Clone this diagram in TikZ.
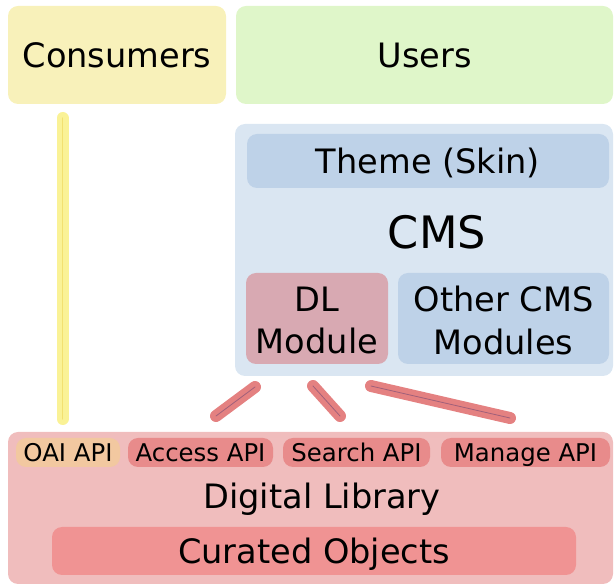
\documentclass[tikz,border=0pt]{standalone}
\usepackage{fontspec}
\setmainfont{DejaVu Sans}
\usetikzlibrary{calc}
\definecolor{consfill}{HTML}{F8F1BA}
\definecolor{userfill}{HTML}{DFF6C9}
\definecolor{cmsfill}{HTML}{DAE6F2}
\definecolor{subfill}{HTML}{BED2E8}
\definecolor{dlmodfill}{HTML}{D8A9B2}
\definecolor{dlfill}{HTML}{F0BDBD}
\definecolor{apifill}{HTML}{E88B8B}
\definecolor{oaifill}{HTML}{F2C8A0}
\definecolor{curfill}{HTML}{F09393}
\definecolor{yelout}{HTML}{FAF296}
\definecolor{yelin}{HTML}{F2E070}
\definecolor{conout}{HTML}{E48181}
\definecolor{conin}{HTML}{A0607A}
\tikzset{
  box/.style={rectangle, rounded corners=7.5pt, inner sep=0pt, align=center, text=black, text depth=0pt},
  bigtxt/.style={font=\fontsize{25.2}{32}\selectfont},
  apitxt/.style={font=\fontsize{18.3}{22}\selectfont},
  conn/.style={line width=9pt, line cap=round, draw=conout},
  conninner/.style={line width=0.6pt, line cap=round, draw=conin},
  yconn/.style={line width=9pt, line cap=round, draw=yelout},
  yconninner/.style={line width=0.8pt, line cap=round, draw=yelin},
}
\begin{document}
\begin{tikzpicture}[x=0.75pt,y=-0.75pt]
\useasboundingbox (0,0) rectangle (615,584);
% top row
\node[box, bigtxt, fill=consfill, minimum width=163.5pt, minimum height=73.5pt] (cons) at (117,55) {Consumers};
\node[box, bigtxt, fill=userfill, minimum width=282.75pt, minimum height=73.5pt] (users) at (424.5,55) {Users};
% CMS
\node[box, fill=cmsfill, minimum width=283.5pt, minimum height=189pt] (cms) at (424,250) {};
\node[box, bigtxt, fill=subfill, minimum width=271.5pt, minimum height=40.5pt] (theme) at (428,161) {Theme (Skin)};
\node[font=\fontsize{33.5}{40}\selectfont, inner sep=0pt] (cmslabel) at (437,232) {CMS};
\node[box, bigtxt, fill=dlmodfill, minimum width=106.5pt, minimum height=68.25pt] (dlmod) at (317,318.5) {};
\node[bigtxt, align=center, inner sep=0pt] (dlmodtext) at (317,320.5) {DL\\Module};
\node[box, bigtxt, fill=subfill, minimum width=158.25pt, minimum height=68.25pt] (other) at (503.5,318.5) {};
\node[bigtxt, align=center, inner sep=0pt] (othertext) at (503.5,320.5) {Other CMS\\Modules};
% Digital library
\node[box, fill=dlfill, minimum width=453.75pt, minimum height=114pt] (dl) at (310.5,508) {};
\node[box, apitxt, fill=oaifill, minimum width=78pt, minimum height=21.75pt] (oai) at (68,452.5) {OAI API};
\node[box, apitxt, fill=apifill, minimum width=108.75pt, minimum height=21.75pt] (access) at (200.5,452.5) {Access API};
\node[box, apitxt, fill=apifill, minimum width=110.25pt, minimum height=21.75pt] (search) at (356.5,452.5) {Search API};
\node[box, apitxt, fill=apifill, minimum width=126.75pt, minimum height=21.75pt] (manage) at (525.5,452.5) {Manage API};
\node[bigtxt, inner sep=0pt, text depth=0pt] (dllabel) at (322,496) {Digital Library};
\node[box, bigtxt, fill=curfill, minimum width=393pt, minimum height=36pt] (cur) at (314,551) {Curated Objects};
% connector end points
\coordinate (y1) at (62.5,118);
\coordinate (y2) at (62.5,419);
\coordinate (a1) at (255,387);
\coordinate (a2) at (216,416);
\coordinate (b1) at (313,386);
\coordinate (b2) at (340,416);
\coordinate (c1) at (371,386);
\coordinate (c2) at (510,418);
% yellow connector consumers -> OAI
\draw[yconn] (y1) -- (y2);
\draw[yconninner] (y1) -- (y2);
% DL module -> APIs
\foreach \s/\e in {a1/a2, b1/b2, c1/c2}{
  \draw[conn] (\s) -- (\e);
  \draw[conninner] (\s) -- (\e);
}
\end{tikzpicture}
\end{document}
